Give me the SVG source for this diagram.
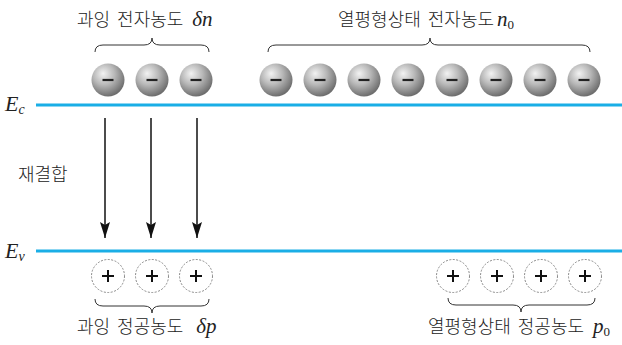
<svg xmlns="http://www.w3.org/2000/svg" width="622" height="345" viewBox="0 0 622 345">
<defs>
<radialGradient id="ball" cx="0.4" cy="0.35" r="0.65" fx="0.35" fy="0.3">
<stop offset="0" stop-color="#f2f2f2"/>
<stop offset="0.5" stop-color="#b8b8b8"/>
<stop offset="1" stop-color="#6e6e6e"/>
</radialGradient>
<marker id="ah" viewBox="0 0 16 10" refX="16" refY="5" markerWidth="16" markerHeight="10" markerUnits="userSpaceOnUse" orient="auto">
<path d="M0,0 L16,5 L0,10 L3,5 Z" fill="#111"/>
</marker>
<g id="e"><circle r="16.5" fill="url(#ball)"/><rect x="-5.5" y="-1.1" width="11" height="2.2" fill="#222"/></g>
<g id="h"><circle r="16.5" fill="none" stroke="#888" stroke-width="1" stroke-dasharray="2 1.5"/><path d="M-6,0 H6 M0,-6 V6" stroke="#111" stroke-width="2"/></g>
</defs>
<style>
.kr{font-family:"Noto Sans CJK KR","Noto Sans",sans-serif;font-size:18px;font-weight:300;fill:#222;word-spacing:3px}
.m{font-family:"Liberation Serif",serif;font-style:italic;font-weight:normal;fill:#222}
.sub{font-family:"Liberation Serif",serif;font-style:normal;font-weight:normal;fill:#222}
.band{stroke:#1aaee6;stroke-width:3}
.br{fill:none;stroke:#333;stroke-width:1}
</style>
<g id="bands">
<line class="band" x1="36" y1="105" x2="622" y2="105"/>
<line class="band" x1="36" y1="251" x2="622" y2="251"/>
<text class="m" x="5" y="111" font-size="22">E<tspan font-size="14" dy="3">c</tspan></text>
<text class="m" x="5" y="258" font-size="22">E<tspan font-size="14" dy="3">v</tspan></text>
</g>
<g id="excess-electrons">
<use href="#e" x="108" y="80"/><use href="#e" x="152" y="80"/><use href="#e" x="196" y="80"/>
<path class="br" d="M95,52 Q95,45 103,45 L144,45 Q152,45 152,38 Q152,45 160,45 L201,45 Q209,45 209,52"/>
<text class="kr" x="77" y="26">과잉 전자농도 <tspan class="m" font-size="21" dx="2">δn</tspan></text>
</g>
<g id="eq-electrons">
<use href="#e" x="276" y="80"/><use href="#e" x="320" y="80"/><use href="#e" x="364" y="80"/><use href="#e" x="408" y="80"/>
<use href="#e" x="452" y="80"/><use href="#e" x="496" y="80"/><use href="#e" x="540" y="80"/><use href="#e" x="584" y="80"/>
<path class="br" d="M268,52 Q268,45 276,45 L422,45 Q430,45 430,38 Q430,45 438,45 L582,45 Q590,45 590,52"/>
<text class="kr" x="338" y="26">열평형상태 전자농도<tspan class="m" font-size="21" dx="3">n</tspan><tspan class="sub" font-size="13" dy="3">0</tspan></text>
</g>
<g id="excess-holes">
<use href="#h" x="108" y="276"/><use href="#h" x="152" y="276"/><use href="#h" x="196" y="276"/>
<path class="br" d="M95,299 Q95,306 103,306 L144,306 Q152,306 152,313 Q152,306 160,306 L201,306 Q209,306 209,299"/>
<text class="kr" x="77" y="333">과잉 정공농도 <tspan class="m" font-size="21" dx="6">δp</tspan></text>
</g>
<g id="eq-holes">
<use href="#h" x="453" y="276"/><use href="#h" x="497" y="276"/><use href="#h" x="541" y="276"/><use href="#h" x="585" y="276"/>
<path class="br" d="M448,298 Q448,305 456,305 L513,305 Q521,305 521,312 Q521,305 529,305 L587,305 Q595,305 595,298"/>
<text class="kr" x="428" y="333">열평형상태 정공농도 <tspan class="m" font-size="21" dx="2">p</tspan><tspan class="sub" font-size="13" dy="3">0</tspan></text>
</g>
<g id="connectors" stroke="#111" stroke-width="1.5">
<line x1="105" y1="118" x2="105" y2="238" marker-end="url(#ah)"/>
<line x1="151" y1="118" x2="151" y2="238" marker-end="url(#ah)"/>
<line x1="197" y1="118" x2="197" y2="238" marker-end="url(#ah)"/>
</g>
<g id="label-recomb">
<text class="kr" x="18" y="181">재결합</text>
</g>
</svg>
